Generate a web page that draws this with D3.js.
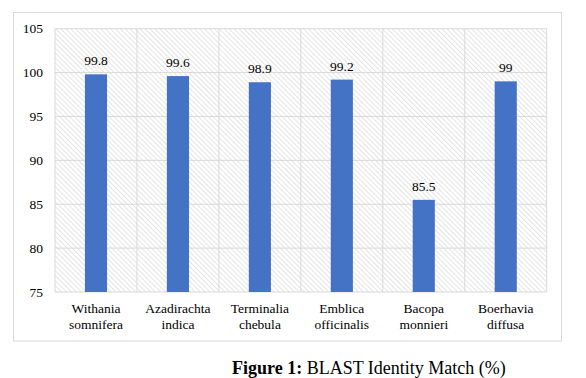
<!DOCTYPE html>
<html>
<head>
<meta charset="utf-8">
<script src="https://cdn.jsdelivr.net/npm/d3@7"></script>
<style>
  body { margin: 0; background: #fff; }
</style>
</head>
<body>
<div id="vis"></div>
<script>
var species = [["Withania", "somnifera"], ["Azadirachta", "indica"], ["Terminalia", "chebula"],
               ["Emblica", "officinalis"], ["Bacopa", "monnieri"], ["Boerhavia", "diffusa"]];
var identity = [99.8, 99.6, 98.9, 99.2, 85.5, 99];
var yTicks = [75, 80, 85, 90, 95, 100, 105];

var FONT = "'Liberation Serif', 'Times New Roman', serif";

var W = 586, H = 378;
var margin = {top: 28.7, right: 39.3, bottom: 86, left: 55},
    width = W - margin.left - margin.right,
    height = H - margin.top - margin.bottom;

var svg = d3.select("#vis").append("svg")
    .attr("width", W)
    .attr("height", H)
    .attr("font-family", FONT);

// hatch pattern for plot background
var defs = svg.append("defs");
var pat = defs.append("pattern")
    .attr("id", "hatch")
    .attr("patternUnits", "userSpaceOnUse")
    .attr("width", 3.5).attr("height", 3.5)
    .attr("patternTransform", "rotate(-45)");
pat.append("rect").attr("width", 3.5).attr("height", 3.5).attr("fill", "#fff");
pat.append("line")
    .attr("x1", 0.5).attr("y1", 0).attr("x2", 0.5).attr("y2", 3.5)
    .attr("stroke", "#e4e4e4").attr("stroke-width", 1);

// outer chart border
svg.append("rect")
    .attr("x", 13.5).attr("y", 12.5)
    .attr("width", 548).attr("height", 328.5)
    .attr("fill", "#fff")
    .attr("stroke", "#d9d9d9");

var x = d3.scaleBand()
    .domain(d3.range(species.length))
    .range([0, width])
    .paddingInner(0).paddingOuter(0);

var y = d3.scaleLinear()
    .domain([75, 105])
    .range([height, 0]);

var g = svg.append("g")
    .attr("transform", "translate(" + margin.left + "," + margin.top + ")");

g.append("rect")
    .attr("width", width).attr("height", height)
    .attr("fill", "url(#hatch)");

// horizontal grid
g.selectAll(".hgrid")
    .data(yTicks)
    .enter().append("line")
    .attr("x1", 0).attr("x2", width)
    .attr("y1", function(d) { return y(d); })
    .attr("y2", function(d) { return y(d); })
    .attr("stroke", "#d9d9d9").attr("stroke-width", 1);

// vertical grid at category boundaries
g.selectAll(".vgrid")
    .data(d3.range(species.length + 1))
    .enter().append("line")
    .attr("x1", function(i) { return i * x.bandwidth(); })
    .attr("x2", function(i) { return i * x.bandwidth(); })
    .attr("y1", 0).attr("y2", height)
    .attr("stroke", "#d9d9d9").attr("stroke-width", 1);

var barW = x.bandwidth() * 0.27;

g.selectAll(".bar")
    .data(identity)
    .enter().append("rect")
    .attr("class", "bar")
    .attr("x", function(d, i) { return x(i) + x.bandwidth() / 2 - barW / 2; })
    .attr("y", function(d) { return y(d); })
    .attr("width", barW)
    .attr("height", function(d) { return height - y(d); })
    .attr("fill", "#4472c4");

g.selectAll(".val")
    .data(identity)
    .enter().append("text")
    .attr("x", function(d, i) { return x(i) + x.bandwidth() / 2; })
    .attr("y", function(d) { return y(d) - 9; })
    .attr("text-anchor", "middle")
    .attr("font-family", FONT)
    .attr("font-size", 13.5)
    .text(function(d) { return d; });

// y axis labels
g.selectAll(".ytick")
    .data(yTicks)
    .enter().append("text")
    .attr("x", -12)
    .attr("y", function(d) { return y(d); })
    .attr("dy", "0.35em")
    .attr("text-anchor", "end")
    .attr("font-family", FONT)
    .attr("font-size", 13.5)
    .text(function(d) { return d; });

// category labels
var cat = g.selectAll(".cat")
    .data(species)
    .enter().append("text")
    .attr("text-anchor", "middle")
    .attr("font-family", FONT)
    .attr("font-size", 13.5)
    .attr("transform", function(d, i) {
      return "translate(" + (x(i) + x.bandwidth() / 2) + "," + (height + 20.5) + ")";
    });
cat.selectAll("tspan")
    .data(function(d) { return d; })
    .enter().append("tspan")
    .attr("x", 0)
    .attr("dy", function(d, i) { return i === 0 ? 0 : 16; })
    .text(function(d) { return d; });

// caption
var cap = svg.append("text")
    .attr("x", 232)
    .attr("y", 374)
    .attr("font-family", FONT)
    .attr("font-size", 18);
cap.append("tspan").attr("font-weight", "bold").text("Figure 1:");
cap.append("tspan").text(" BLAST Identity Match (%)");
</script>
</body>
</html>
